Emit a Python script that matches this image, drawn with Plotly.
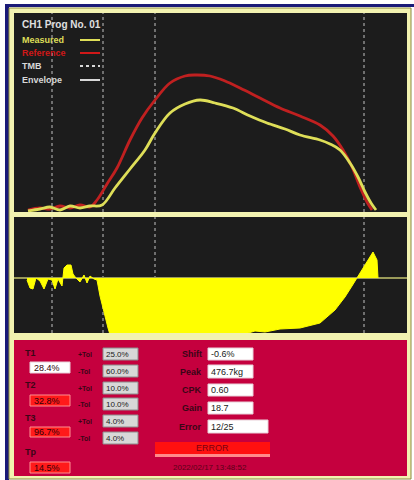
import plotly.graph_objects as go

W, H = 414, 480

# ---- data (sample position, amplitude) ----
ref_x = [28, 40, 50, 60, 70, 80, 90, 97, 107, 117, 130, 142, 155, 170, 185, 195,
         210, 225, 240, 260, 280, 300, 320, 333, 343, 352, 360, 367, 372]
ref_y = [2, 4, 3, 6, 4, 7, 5, 12, 28, 44, 72, 94, 112, 129, 136, 137,
         136, 131, 124, 114, 104, 96, 87, 76, 62, 45, 25, 10, 2]

meas_x = [28, 40, 50, 60, 70, 80, 90, 102, 115, 130, 145, 155, 170, 185, 200,
          215, 233, 250, 267, 285, 300, 320, 330, 340, 350, 358, 365, 371, 376]
meas_y = [1, 3, 5, 2, 6, 4, 6, 7, 24, 43, 62, 79, 99, 108, 112,
          109, 104, 96, 89, 83, 77, 72, 68, 62, 49, 35, 20, 9, 2]

diff_x = [27, 30, 33, 36, 40, 44, 48, 52, 55, 58, 62, 64, 67, 71, 73, 76, 80, 84,
          87, 90, 94, 97, 100, 104, 108, 111, 240, 245, 255, 265, 280, 300, 320,
          335, 345, 352, 357, 362, 367, 370, 373, 377, 378]
diff_y = [-2, -10, -11, 0, -3, -11, -1, -2, -11, -1, -8, 10, 13, 13, 4, 0, -4, 3,
          -5, 2, -1, -2, -18, -35, -50, -60, -60, -56, -53, -54, -51, -50, -45,
          -32, -19, -8, 0, 8, 16, 22, 26, 18, 0]

marker_x = [52, 103, 155, 364]

title_text = "CH1 Prog No. 01"
legend_labels = ["Measured", "Reference", "TMB", "Envelope"]

t_labels = ["T1", "T2", "T3", "Tp"]
t_values = ["28.4%", "32.8%", "96.7%", "14.5%"]
tol_labels = ["+Tol", "-Tol", "+Tol", "-Tol", "+Tol", "-Tol"]
tol_values = ["25.0%", "60.0%", "10.0%", "10.0%", "4.0%", "4.0%"]
stat_labels = ["Shift", "Peak", "CPK", "Gain", "Error"]
stat_values = ["-0.6%", "476.7kg", "0.60", "18.7", "12/25"]
status_text = "ERROR"
stamp_text = "2022/02/17 13:48:52"

YEL = "#dede58"
RED = "#c02020"
DARK = "#1c1c1c"
CRIMSON = "#c5003e"
LBL = "#3a0616"


def X(px):
    return px / W


def Y(py):
    return 1 - py / H


shapes = []
ann = []


def rect(x0, y0, x1, y1, fill, line=None, lw=0, layer="below"):
    shapes.append(dict(type="rect", xref="paper", yref="paper",
                       x0=X(x0), x1=X(x1), y0=Y(y1), y1=Y(y0),
                       fillcolor=fill, line=dict(color=line or fill, width=lw),
                       layer=layer))


def text(px, py, s, color, size=8, anchor="left", bold=True):
    ann.append(dict(xref="paper", yref="paper", x=X(px), y=Y(py),
                    text="<b>%s</b>" % s if bold else s, showarrow=False,
                    xanchor=anchor, yanchor="middle",
                    font=dict(family="Liberation Sans, Arial", size=size, color=color)))


# frame
rect(0, 0, 414, 480, "white")
rect(5, 4, 414, 7, "#1a1a78")
rect(5, 4, 9, 480, "#1a1a78")
rect(9, 8, 411, 479, "#f2f2b0", "#8a8a40", 1)
rect(14, 13, 407, 212, DARK)
rect(14, 217, 407, 333, DARK)
rect(14, 340, 407, 476, CRIMSON)

fig = go.Figure()

fig.add_trace(go.Scatter(x=ref_x, y=ref_y, mode="lines",
                         line=dict(color=RED, width=2.8, shape="spline"),
                         xaxis="x", yaxis="y", hoverinfo="skip"))
fig.add_trace(go.Scatter(x=meas_x, y=meas_y, mode="lines",
                         line=dict(color=YEL, width=2.8, shape="spline"),
                         xaxis="x", yaxis="y", hoverinfo="skip"))
fig.add_trace(go.Scatter(x=diff_x, y=diff_y, mode="lines", fill="tozeroy",
                         fillcolor="#ffff00", line=dict(color="#ffff00", width=1),
                         xaxis="x2", yaxis="y2", hoverinfo="skip"))

# marker lines
for m in marker_x:
    for xr, yr in (("x", "y domain"), ("x2", "y2 domain")):
        shapes.append(dict(type="line", xref=xr, yref=yr, x0=m, x1=m, y0=0, y1=1,
                           line=dict(color="#8a8a8a", width=1.5, dash="dot"),
                           layer="below"))

# legend block
text(20, 24, title_text, "#e0e0e0", 10)
leg_cols = [YEL, "#d01818", "#d8d8d8", "#d8d8d8"]
leg_dash = ["solid", "solid", "dot", "solid"]
for i, (lab, c, d) in enumerate(zip(legend_labels, leg_cols, leg_dash)):
    yy = [40, 53, 66, 80][i]
    text(20, yy, lab, c, 9)
    shapes.append(dict(type="line", xref="paper", yref="paper",
                       x0=X(80), x1=X(100), y0=Y(yy), y1=Y(yy),
                       line=dict(color=c, width=2, dash=d), layer="above"))

# T column
t_rows = [(353, 362, 373), (385, 395, 406), (418, 427, 437), (452, 462, 473)]
for i, (lab, val) in enumerate(zip(t_labels, t_values)):
    ly, b0, b1 = t_rows[i]
    text(23, ly, lab, LBL, 9)
    fill = "white" if i == 0 else "#ff1a1a"
    rect(30, b0, 70, b1, fill, "#ff9090" if i else "#e8d0d8", 1, "above")
    text(32, (b0 + b1) / 2, val, "#300008", 9, bold=False)

# tolerance column
tol_rows = [(348, 360), (365, 377), (382, 394), (398, 410), (415, 427), (432, 444)]
for lab, val, (b0, b1) in zip(tol_labels, tol_values, tol_rows):
    text(76, (b0 + b1) / 2, lab, LBL, 7)
    rect(103, b0, 138, b1, "#d8d8d8", "#8c8c8c", 1, "above")
    text(104, (b0 + b1) / 2, val, "#202020", 8, bold=False)

# stats column
stat_rows = [(348, 360), (365, 378), (384, 396), (402, 414), (420, 433)]
for i, (lab, val, (b0, b1)) in enumerate(zip(stat_labels, stat_values, stat_rows)):
    text(204, (b0 + b1) / 2, lab, LBL, 9, anchor="right")
    rect(208, b0, 268 if i == 4 else 253, b1, "white", "#e8d0d8", 1, "above")
    text(209, (b0 + b1) / 2, val, "#202020", 9, bold=False)

rect(155, 442, 270, 457, "#ff8a8a", layer="above")
rect(155, 442, 270, 454, "#ff1010", layer="above")
text(212, 448, status_text, "#7a0010", 9, anchor="center", bold=False)
text(210, 467, stamp_text, "#5a0018", 8, anchor="center", bold=False)

ax = dict(showgrid=False, zeroline=False, showticklabels=False, ticks="",
          showline=False, fixedrange=True)
fig.update_layout(
    width=W, height=H, margin=dict(l=0, r=0, t=0, b=0),
    paper_bgcolor="white", plot_bgcolor="rgba(0,0,0,0)", showlegend=False,
    xaxis=dict(ax, domain=[X(14), X(407)], range=[14, 407], anchor="y"),
    yaxis=dict(ax, domain=[Y(212), Y(13)], range=[0, 199], anchor="x"),
    xaxis2=dict(ax, domain=[X(14), X(407)], range=[14, 407], anchor="y2"),
    yaxis2=dict(ax, domain=[Y(333), Y(217)], range=[-55, 61], anchor="x2",
                zeroline=True, zerolinecolor="#9a9a5a", zerolinewidth=2),
    shapes=shapes, annotations=ann,
)

# page body has a default 8px margin; drop it so the figure sits at 0,0
fig.write_html("out.html", config={"displayModeBar": False},
               post_script="document.body.style.margin='0';")
